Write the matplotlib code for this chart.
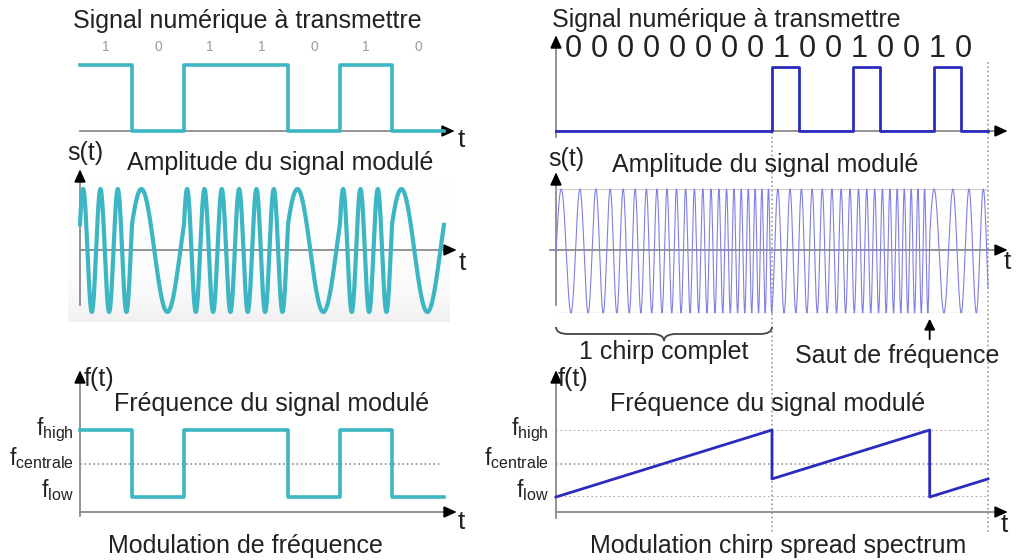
import numpy as np
import matplotlib.pyplot as plt
from matplotlib.path import Path
from matplotlib.patches import PathPatch, Polygon
from matplotlib.transforms import blended_transform_factory as blend

plt.rcParams['font.family'] = ['Liberation Sans', 'DejaVu Sans']
plt.rcParams['mathtext.fontset'] = 'custom'
plt.rcParams['mathtext.rm'] = 'Liberation Sans'

# --- donnees ---
# modulation de frequence (FSK), 7 bits
bits_fsk = [1, 0, 1, 1, 0, 1, 0]
freq_bas = 1.0        # cycles par bit pour un 0
freq_haut = 3.0       # cycles par bit pour un 1
phase_fsk = -0.18     # phase de depart (cycles)

# chirp spread spectrum, 16 bits
bits_css = [0, 0, 0, 0, 0, 0, 0, 0, 1, 0, 0, 1, 0, 0, 1, 0]
chirp_debut = [0, 8]          # debut de chaque chirp (bits)
chirp_decalage = [0.0, 0.27]  # position de depart dans la bande
chirp_duree = 8
css_bas = 1.25
css_haut = 4.2

CYAN = '#3bb6c2'
BLEU = '#2b2bbd'
BLEU_CLAIR = '#8080e4'
GRIS = '#8a8a8a'
TXT = '#222222'
FS = 18

W, H = 1016, 560
fig = plt.figure(figsize=(W / 100, H / 100), dpi=100)
ov = fig.add_axes([0, 0, 1, 1])
ov.set_xlim(0, W)
ov.set_ylim(H, 0)
ov.axis('off')


def panel(x0, x1, ytop, ybot, xlim, ylim):
    ax = fig.add_axes([x0 / W, 1 - ybot / H, (x1 - x0) / W, (ybot - ytop) / H])
    ax.set_xlim(*xlim)
    ax.set_ylim(*ylim)
    ax.axis('off')
    return ax


def fleche(x0, y0, x1, y1):
    ov.plot([x0, x1], [y0, y1], color=GRIS, lw=1.3, zorder=1)
    d = np.array([x1 - x0, y1 - y0], float)
    d /= np.hypot(*d)
    n = np.array([-d[1], d[0]])
    tip = np.array([x1, y1])
    base = tip - 11 * d
    ov.add_patch(Polygon([tip, base + 5 * n, base - 5 * n], closed=True,
                         color='black', zorder=2))


def txt(x, y, s, size=FS, **kw):
    kw.setdefault('ha', 'center')
    kw.setdefault('va', 'center')
    ov.text(x, y, s, fontsize=size, color=TXT, **kw)


# ---------------- gauche ----------------
L1 = panel(80, 444, 65, 131, (0, 7), (0, 1))
L2 = panel(80, 444, 189, 312, (0, 7), (-1, 1))
L3 = panel(80, 444, 430, 497, (0, 7), (freq_bas, freq_haut))

grad = (np.linspace(0, 1, 120) ** 5 * 0.11 + 0.015)[:, None] * np.ones((1, 10))
ov.imshow(grad, extent=(68, 450, 322, 176), cmap='Greys', vmin=0, vmax=1,
          aspect='auto', zorder=0)
ov.set_xlim(0, W)
ov.set_ylim(H, 0)

n = len(bits_fsk)
tb = np.arange(n + 1)
L1.step(tb, bits_fsk + [bits_fsk[-1]], where='post', color=CYAN, lw=2.6,
        clip_on=False)

freqs = np.array([freq_haut if b else freq_bas for b in bits_fsk])
t = np.linspace(0, n, 4000, endpoint=False)
k = t.astype(int)
ph0 = phase_fsk + np.concatenate([[0], np.cumsum(freqs)])[k]
ph = ph0 + freqs[k] * (t - k)
L2.plot(t, np.cos(2 * np.pi * ph), color=CYAN, lw=3, clip_on=False)

L3.axhline((freq_bas + freq_haut) / 2, xmax=0.995, color=GRIS, ls=':', lw=1.2)
L3.step(tb, list(freqs) + [freqs[-1]], where='post', color=CYAN, lw=2.6,
        clip_on=False)

fleche(80, 131, 453, 131)
fleche(80, 305, 80, 171)
fleche(80, 250, 455, 250)
fleche(80, 516, 80, 372)
fleche(80, 512, 455, 512)

txt(247, 21, 'Signal numérique à transmettre')
for i, b in enumerate(bits_fsk):
    ov.text(80 + 52 * (i + 0.5), 47, str(b), fontsize=10, color='#9a9a9a',
            ha='center', va='center')
txt(461, 140, 't', 19)
txt(85, 153, 's(t)')
txt(280, 163, 'Amplitude du signal modulé')
txt(462, 263, 't', 19)
txt(99, 379, 'f(t)')
txt(272, 404, 'Fréquence du signal modulé')
txt(461, 522, 't', 19)
txt(245, 546, 'Modulation de fréquence')
for yb, lab in [(435, 'high'), (465, 'centrale'), (497, 'low')]:
    txt(74, yb, r'f$_{\mathrm{%s}}$' % lab, 16.5, ha='right', va='baseline')

# ---------------- droite ----------------
m = len(bits_css)
R1 = panel(556, 988, 67, 131, (0, m), (0, 1))
R2 = panel(556, 988, 189, 313, (0, m), (-1, 1))
R3 = panel(556, 988, 430, 497, (0, m), (css_bas, css_haut))
bx = blend(R1.transData, ov.transData)

# lignes pointillees de separation des chirps
for tv, ytop in [(chirp_debut[1], 128), (m, 62)]:
    ov.plot([tv, tv], [ytop, 532], transform=bx, color='#999999', ls=':',
            lw=1.2, zorder=1)

tc = np.arange(m + 1)
R1.step(tc, bits_css + [bits_css[-1]], where='post', color=BLEU, lw=2,
        clip_on=False, zorder=3)

tt = np.linspace(0, m, 40000)
idx = np.searchsorted(chirp_debut, tt, side='right') - 1
frac = (np.array(chirp_decalage)[idx]
        + (tt - np.array(chirp_debut)[idx]) / chirp_duree) % 1.0
fi = css_bas + (css_haut - css_bas) * frac
phase = np.concatenate([[0], np.cumsum(fi[:-1] * np.diff(tt))])
R2.axhline(1, color='#d0d0d0', lw=1)
R2.axhline(-1, color='#d0d0d0', lw=1)
R2.plot(tt, np.sin(2 * np.pi * phase), color=BLEU_CLAIR, lw=0.8, clip_on=False)

for lv in [css_bas, (css_bas + css_haut) / 2, css_haut]:
    R3.axhline(lv, color='#999999', ls=':', lw=1.2)
R3.plot(tt, fi, color=BLEU, lw=2, clip_on=False)

fleche(556, 137, 556, 37)
fleche(556, 131, 1006, 131)
fleche(556, 305, 556, 174)
fleche(550, 250, 1006, 250)
fleche(556, 518, 556, 372)
fleche(556, 512, 1006, 512)

ov.text(552, 20, 'Signal numérique à transmettre', fontsize=FS, color=TXT,
        ha='left', va='center')
for i, b in enumerate(bits_css):
    ov.text(573 + 26 * i, 49, str(b), fontsize=22, color=TXT,
            ha='center', va='center')
txt(566, 159, 's(t)')
txt(765, 165, 'Amplitude du signal modulé')
txt(1007, 262, 't', 19)
txt(573, 379, 'f(t)')
txt(768, 404, 'Fréquence du signal modulé')
txt(1004, 525, 't', 19)
txt(778, 546, 'Modulation chirp spread spectrum')
for yb, lab in [(435, 'high'), (465, 'centrale'), (497, 'low')]:
    txt(549, yb, r'f$_{\mathrm{%s}}$' % lab, 16.5, ha='right', va='baseline')

# accolade "1 chirp complet"
a, b_ = chirp_debut[0], chirp_debut[0] + chirp_duree
c, r = (a + b_) / 2, 0.45
y0, y1, y2 = 327, 334, 341
verts = [(a, y0), (a, y1), (a + r, y1), (c - r, y1), (c, y1), (c, y2),
         (c, y1), (c + r, y1), (b_ - r, y1), (b_, y1), (b_, y0)]
codes = [Path.MOVETO, Path.CURVE3, Path.CURVE3, Path.LINETO, Path.CURVE3,
         Path.CURVE3, Path.CURVE3, Path.CURVE3, Path.LINETO, Path.CURVE3,
         Path.CURVE3]
ov.add_patch(PathPatch(Path(verts, codes), transform=bx, fill=False,
                       edgecolor='#444444', lw=1.3))
ov.text(c, 352, '1 chirp complet', transform=bx, fontsize=FS, color=TXT,
        ha='center', va='center')

# saut de frequence
t_saut = chirp_debut[1] + chirp_duree * (1 - chirp_decalage[1])
ov.annotate('', xy=(t_saut, 316), xytext=(t_saut, 342), xycoords=bx,
            textcoords=bx, arrowprops=dict(arrowstyle='-|>', color='black',
                                           lw=1.3, mutation_scale=16))
txt(897, 356, 'Saut de fréquence')

fig.savefig('out.png', dpi=100)
